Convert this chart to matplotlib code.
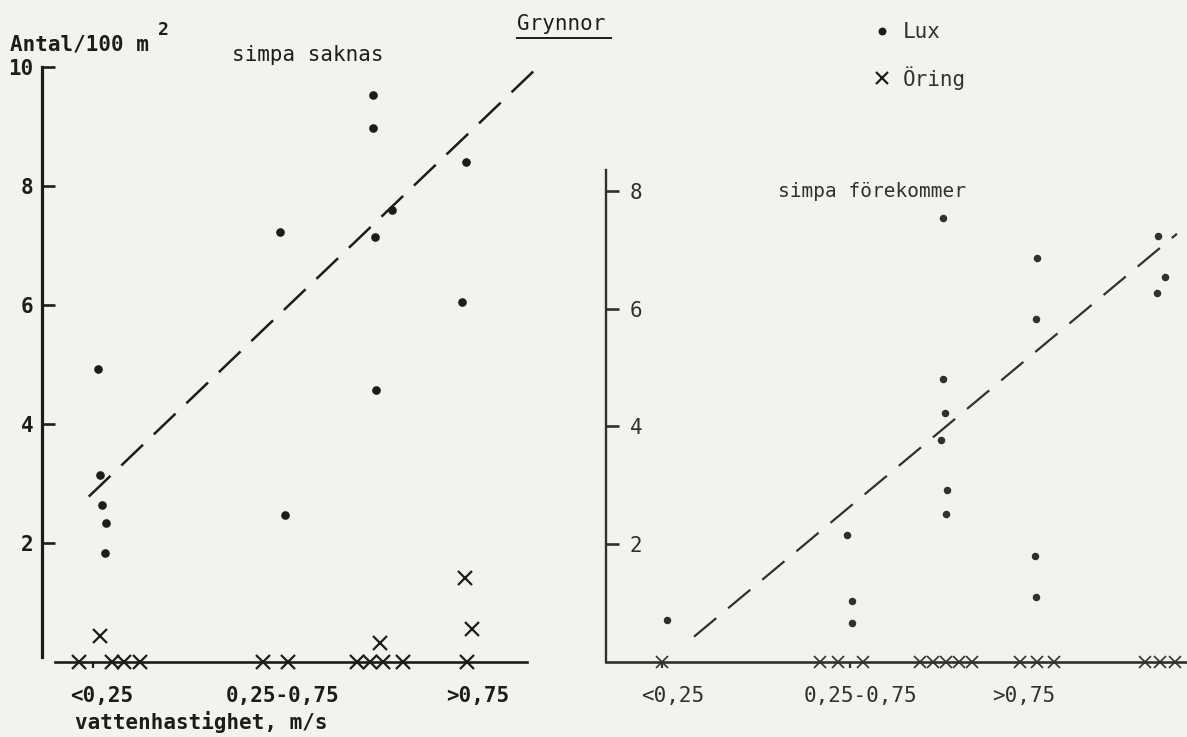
import matplotlib.pyplot as plt
from matplotlib.lines import Line2D

# --- data (x = position along the axis, y = Antal/100 m2) ---
categories = ["<0,25", "0,25-0,75", ">0,75"]

# left panel: simpa saknas
left_cat_x = [1.19, 4.79, 8.67]
left_cat_tick = [1.01]
left_lux_x = [1.11, 1.15, 1.19, 1.27, 1.25, 4.73, 4.83, 6.58, 6.58, 6.62, 6.64, 6.96, 8.43, 8.35]
left_lux_y = [4.93, 3.14, 2.64, 2.34, 1.84, 7.22, 2.47, 9.53, 8.98, 7.15, 4.57, 7.60, 8.40, 6.05]
left_oring_x = [1.15, 6.72, 8.55, 8.41, 0.74, 1.39, 1.63, 1.95, 4.39, 4.89, 6.26, 6.52, 6.78, 7.18, 8.45]
left_oring_y = [0.43, 0.32, 0.56, 1.41, 0, 0, 0, 0, 0, 0, 0, 0, 0, 0, 0]
left_trend_x = [0.93, 9.86]
left_trend_y = [2.78, 10.0]

# right panel: simpa förekommer
right_cat_x = [1.33, 5.05, 8.31]
right_cat_tick = [1.11, 4.85]
right_lux_x = [6.70, 8.57, 8.55, 10.97, 11.11, 10.95, 6.70, 6.74, 6.66, 6.78, 6.76,
               4.79, 4.89, 4.89, 8.53, 8.55, 1.21]
right_lux_y = [7.53, 6.86, 5.83, 7.24, 6.54, 6.27, 4.81, 4.22, 3.77, 2.92, 2.51,
               2.16, 1.04, 0.66, 1.80, 1.11, 0.71]
right_oring_x = [1.11, 4.25, 4.61, 5.11, 6.24, 6.50, 6.76, 7.02, 7.28,
                 8.23, 8.57, 8.91, 10.72, 11.01, 11.31]
right_oring_y = [0] * 15
right_trend_x = [1.75, 11.35]
right_trend_y = [0.43, 7.27]

left_yticks = [2, 4, 6, 8, 10]
right_yticks = [2, 4, 6, 8]

W, H = 1187, 737
ink = "#1c1c1c"
ink2 = "#303030"
paper = "#f2f2ef"
mono = "DejaVu Sans Mono"

fig = plt.figure(figsize=(W / 100, H / 100), dpi=100, facecolor=paper)


def fx(px):
    return px / W


def fy(py):
    return 1 - py / H


def setup(ax, color):
    ax.set_facecolor("none")
    for s in ["top", "right"]:
        ax.spines[s].set_visible(False)
    for s in ["left", "bottom"]:
        ax.spines[s].set_color(color)
        ax.spines[s].set_linewidth(1.9)
    ax.tick_params(axis="y", direction="in", length=9, width=1.9, color=color,
                   labelsize=15, labelcolor=color)
    ax.tick_params(axis="x", which="major", length=0, labelsize=15,
                   labelcolor=color, pad=17)
    ax.tick_params(axis="x", which="minor", direction="out", length=4,
                   width=1.6, color=color)


# ---- left panel ----
ax1 = fig.add_axes([fx(42), 1 - 662 / H, fx(545) - fx(42), 595 / H])
setup(ax1, ink)
ax1.set_xlim(0, 10)
ax1.set_ylim(0, 10)
ax1.spines["left"].set_bounds(0.08, 10)
ax1.spines["bottom"].set_bounds(0.26, 9.64)
ax1.spines["left"].set_linewidth(2.3)
ax1.set_yticks(left_yticks, [str(v) for v in left_yticks], family=mono, weight="bold")
ax1.tick_params(axis="y", pad=6)
ax1.set_xticks(left_cat_x, categories, family=mono, weight="bold")
ax1.set_xticks(left_cat_tick, minor=True)

ax1.plot(left_trend_x, left_trend_y, color=ink, lw=1.8, dashes=(12, 6), clip_on=False)
lux_h, = ax1.plot(left_lux_x, left_lux_y, ls="none", marker="o", ms=5.2,
                  color=ink, clip_on=False, zorder=4, label="Lux")
oring_h, = ax1.plot(left_oring_x, left_oring_y, ls="none", marker="x", ms=10,
                    mew=1.6, color=ink, clip_on=False, zorder=4, label="Öring")

# ---- right panel ----
ax2 = fig.add_axes([fx(606), 1 - 662 / H, 1 - fx(606), 589 / H])
setup(ax2, ink2)
ax2.set_xlim(0, 11.55)
ax2.set_ylim(0, 10)
ax2.spines["left"].set_bounds(0, 8.35)
ax2.spines["left"].set_linewidth(1.7)
ax2.set_yticks(right_yticks, [str(v) for v in right_yticks], family=mono)
ax2.tick_params(axis="y", pad=-17)
for lbl in ax2.get_yticklabels():
    lbl.set_horizontalalignment("left")
ax2.set_xticks(right_cat_x, categories, family=mono)
ax2.set_xticks(right_cat_tick, minor=True)

ax2.plot(right_trend_x, right_trend_y, color=ink2, lw=1.6, dashes=(13, 7), clip_on=False)
ax2.plot(right_lux_x, right_lux_y, ls="none", marker="o", ms=4.4,
         color=ink2, clip_on=False, zorder=4)
ax2.plot(right_oring_x, right_oring_y, ls="none", marker="x", ms=9,
         mew=1.2, color=ink2, clip_on=False, zorder=4)

# ---- texts ----
fig.text(fx(10), fy(51), "Antal/100 m", family=mono, fontsize=15,
         weight="bold", color=ink, va="baseline")
fig.text(fx(158), fy(35), "2", family=mono, fontsize=13,
         weight="bold", color=ink, va="baseline")
fig.text(fx(232), fy(61), "simpa saknas", family=mono, fontsize=15,
         color=ink, va="baseline")
fig.text(fx(517), fy(30), "Grynnor", family=mono, fontsize=15,
         color=ink, va="baseline")
fig.add_artist(Line2D([fx(517), fx(611)], [fy(38), fy(38)], color=ink, lw=1.4))
fig.text(fx(778), fy(197), "simpa förekommer", family=mono, fontsize=14,
         color=ink2, va="baseline")
fig.text(fx(75), fy(729), "vattenhastighet, m/s", family=mono, fontsize=15,
         weight="bold", color=ink, va="baseline")

fig.legend(handles=[lux_h, oring_h], loc="upper left",
           bbox_to_anchor=(fx(874), fy(22)), frameon=False,
           prop={"family": mono, "size": 15}, handlelength=0.8,
           handletextpad=0.6, borderpad=0, borderaxespad=0,
           labelspacing=1.15, labelcolor=ink2, markerscale=0.9)

fig.savefig("out.png", dpi=100, facecolor=paper)
